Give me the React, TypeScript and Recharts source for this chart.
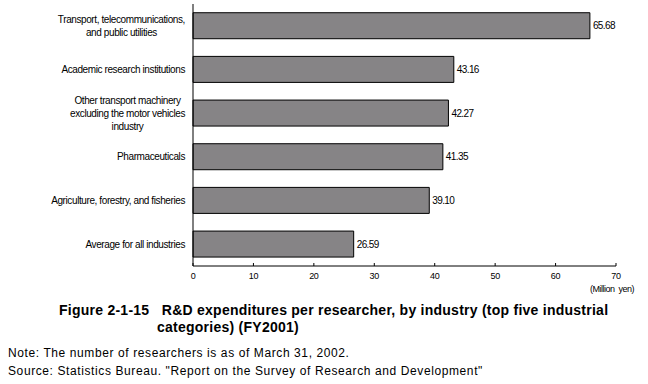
import { Bar, BarChart, LabelList, XAxis, YAxis } from 'recharts'

const industries = [
  'Transport, telecommunications,\nand public utilities',
  'Academic research institutions',
  'Other transport machinery\nexcluding the motor vehicles\nindustry',
  'Pharmaceuticals',
  'Agriculture, forestry, and fisheries',
  'Average for all industries',
]
const spending = [65.68, 43.16, 42.27, 41.35, 39.1, 26.59]
const xTicks = [0, 10, 20, 30, 40, 50, 60, 70]

const sans = '"Liberation Sans", Arial, sans-serif'

const chartData = industries.map((name, i) => ({ name, value: spending[i] }))

let ctx: CanvasRenderingContext2D | null = null
function textWidth(s: string) {
  if (!ctx) ctx = document.createElement('canvas').getContext('2d')
  if (!ctx) return s.length * 4
  ctx.font = `10px ${sans}`
  ;(ctx as any).letterSpacing = '-0.4px'
  return ctx.measureText(s).width
}

function IndustryTick(props: any) {
  const { x, y, payload } = props
  const lines = String(payload.value).split('\n')
  const lh = 13
  const w = Math.max(...lines.map((l) => textWidth(l)))
  const cx = x - w / 2
  const y0 = y - ((lines.length - 1) * lh) / 2
  return (
    <text
      x={cx}
      y={y0}
      textAnchor="middle"
      fontSize={10}
      fontFamily={sans}
      letterSpacing={-0.4}
      fill="#000"
    >
      {lines.map((l, i) => (
        <tspan key={i} x={cx} y={y0 + i * lh} dy="0.35em">
          {l}
        </tspan>
      ))}
    </text>
  )
}

function ValueTick(props: any) {
  const { x, y, payload } = props
  return (
    <g>
      <line x1={x} x2={x} y1={y - 3} y2={y} stroke="#000" />
      <text x={x} y={y + 13} textAnchor="middle" fontSize={9} fontFamily={sans} letterSpacing={-0.3} fill="#000">
        {payload.value}
      </text>
    </g>
  )
}

export default function App() {
  return (
    <div
      style={{
        position: 'absolute',
        left: 0,
        top: 0,
        width: 648,
        height: 384,
        background: '#fff',
        fontFamily: sans,
      }}
    >
      <BarChart
        layout="vertical"
        width={648}
        height={300}
        data={chartData}
        margin={{ top: 4, right: 32, bottom: 4, left: 0 }}
        barCategoryGap="20%"
      >
        <XAxis
          type="number"
          domain={[0, 70]}
          ticks={xTicks}
          tickSize={0}
          tickMargin={0}
          height={30}
          interval={0}
          axisLine={{ stroke: '#000' }}
          tickLine={false}
          tick={<ValueTick />}
        />
        <YAxis
          type="category"
          dataKey="name"
          width={193}
          interval={0}
          axisLine={{ stroke: '#000' }}
          tickLine={false}
          tick={<IndustryTick />}
        />
        <Bar dataKey="value" fill="#868486" stroke="#000" strokeWidth={1} isAnimationActive={false}>
          <LabelList
            dataKey="value"
            position="right"
            offset={3}
            fill="#000"
            fontSize={10}
            fontFamily={sans}
            letterSpacing={-0.6}
            formatter={(v: any) => Number(v).toFixed(2)}
          />
        </Bar>
      </BarChart>
      <div
        style={{
          position: 'absolute',
          right: 14,
          top: 284,
          fontSize: 9,
          lineHeight: '10px',
          letterSpacing: -0.5,
          whiteSpace: 'nowrap',
        }}
      >
        (Million&nbsp;&nbsp;yen)
      </div>
      <div
        style={{
          position: 'absolute',
          left: 59,
          top: 302,
          fontSize: 14,
          fontWeight: 'bold',
          lineHeight: '16px',
          letterSpacing: 0.25,
          whiteSpace: 'nowrap',
        }}
      >
        Figure 2-1-15&nbsp;&nbsp;&nbsp;R&amp;D expenditures per researcher, by industry (top five industrial
      </div>
      <div
        style={{
          position: 'absolute',
          left: 157,
          top: 319,
          fontSize: 14,
          fontWeight: 'bold',
          lineHeight: '16px',
          letterSpacing: 0.25,
          whiteSpace: 'nowrap',
        }}
      >
        categories) (FY2001)
      </div>
      <div
        style={{
          position: 'absolute',
          left: 8,
          top: 344,
          fontSize: 12,
          lineHeight: '18px',
          letterSpacing: 0.6,
          whiteSpace: 'nowrap',
        }}
      >
        Note: The number of researchers is as of March 31, 2002.
        <br />
        Source: Statistics Bureau. "Report on the Survey of Research and Development"
      </div>
    </div>
  )
}
